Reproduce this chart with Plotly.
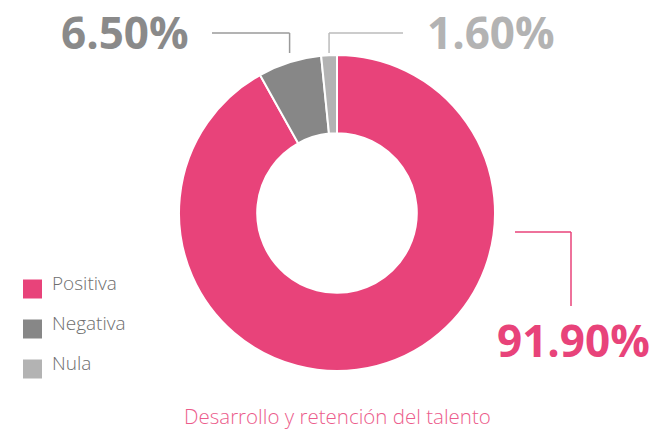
import math
import plotly.graph_objects as go

labels = ["Positiva", "Negativa", "Nula"]
values = [91.9, 6.5, 1.6]
value_text = ["91.90%", "6.50%", "1.60%"]
colors = ["#E8437A", "#878787", "#B3B3B3"]
text_colors = ["#E8437A", "#8A8A8A", "#B3B3B3"]
line_colors = ["#E8437A", "#9A9A9A", "#BBBBBB"]
title = "Desarrollo y retención del talento"

W, H = 653, 429
CX, CY, R = 337, 213, 158


def px(x):
    return x / W


def py(y):
    return 1 - y / H


fig = go.Figure(go.Pie(
    labels=labels,
    values=values,
    marker=dict(colors=colors, line=dict(color="white", width=2)),
    hole=0.505,
    sort=False,
    direction="clockwise",
    rotation=0,
    textinfo="none",
    hoverinfo="label+percent",
    showlegend=False,
    domain=dict(x=[px(CX - R), px(CX + R)], y=[py(CY + R), py(CY - R)]),
))

# mid angle of each slice, clockwise from 12 o'clock
total = sum(values)
mids = []
cum = 0
for v in values:
    mids.append(2 * math.pi * (cum + v / 2) / total)
    cum += v

shapes = []
annotations = []


def seg(x0, y0, x1, y1, color):
    shapes.append(dict(type="line", xref="paper", yref="paper",
                       x0=px(x0), y0=py(y0), x1=px(x1), y1=py(y1),
                       line=dict(color=color, width=1.5)))


# small slices: leader goes up from the slice, then sideways to the label
label_pos = {1: (125, 212), 2: (491, 403)}
for i, (lx, end_x) in label_pos.items():
    x = CX + R * math.sin(mids[i])
    seg(x, 53, x, 33, line_colors[i])
    seg(x, 33, end_x, 33, line_colors[i])
    annotations.append(dict(text=f"<b>{value_text[i]}</b>", xref="paper", yref="paper",
                            x=px(lx), y=py(32), xanchor="center", yanchor="middle",
                            showarrow=False,
                            font=dict(family="Open Sans", size=44, color=text_colors[i])))

# big slice: leader goes right from the ring, then down to the label
seg(515, 232, 571, 232, line_colors[0])
seg(571, 232, 571, 306, line_colors[0])
annotations.append(dict(text=f"<b>{value_text[0]}</b>", xref="paper", yref="paper",
                        x=px(573), y=py(340), xanchor="center", yanchor="middle",
                        showarrow=False,
                        font=dict(family="Open Sans", size=44, color=text_colors[0])))

# legend drawn by hand so the swatches match the original size
for i, lab in enumerate(labels):
    yc = 289 + 40 * i
    shapes.append(dict(type="rect", xref="paper", yref="paper",
                       x0=px(23), x1=px(42), y0=py(yc - 9.5), y1=py(yc + 9.5),
                       fillcolor=colors[i], line=dict(width=0)))
    annotations.append(dict(text=lab, xref="paper", yref="paper",
                            x=px(50), y=py(yc - 6), xanchor="left", yanchor="middle",
                            showarrow=False,
                            font=dict(family="Open Sans", size=19, weight=300,
                                      color="#6E6E6E")))

annotations.append(dict(text=title, xref="paper", yref="paper",
                        x=px(CX), y=py(416), xanchor="center", yanchor="middle",
                        showarrow=False,
                        font=dict(family="Open Sans", size=20.5, weight=300, color="#EC5C8B")))

fig.update_layout(
    width=W,
    height=H,
    margin=dict(l=0, r=0, t=0, b=0),
    paper_bgcolor="white",
    plot_bgcolor="white",
    shapes=shapes,
    annotations=annotations,
)

# drop the default 8px body margin so the figure sits flush in the window
fig.write_html("out.html", config={"displayModeBar": False},
               post_script="document.body.style.margin = '0';")
